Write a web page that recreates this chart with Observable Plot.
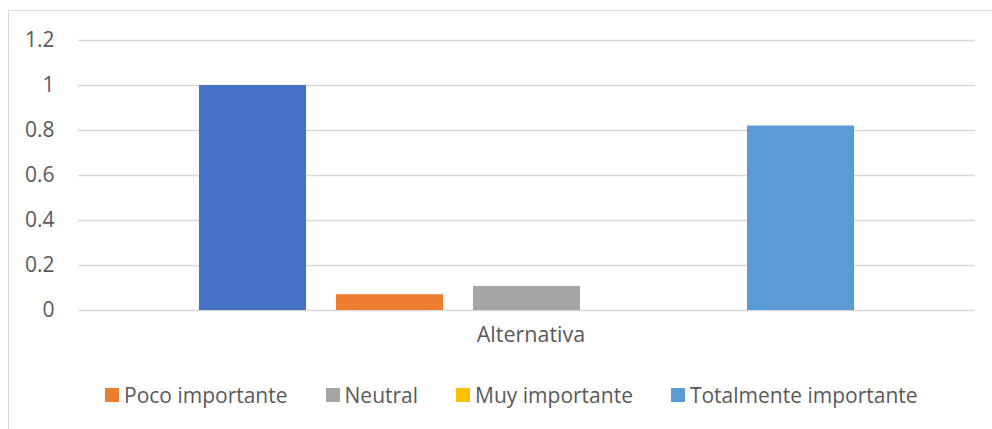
<!DOCTYPE html>
<html>
<head>
<meta charset="utf-8">
<script src="https://cdn.jsdelivr.net/npm/d3@7"></script>
<script src="https://cdn.jsdelivr.net/npm/@observablehq/plot@0.6"></script>
<style>
  html, body { margin: 0; padding: 0; background: #fff; width: 992px; height: 429px; overflow: hidden; }
  #frame { position: absolute; left: 8px; top: 10px; width: 1100px; height: 500px; border: 1.5px solid #d9d9d9; box-sizing: border-box; }
  #chart { position: absolute; left: 0; top: 0; }
  #legend { position: absolute; left: 105px; top: 382px; height: 26px; display: flex; align-items: center; font-family: "Open Sans", sans-serif; font-size: 21px; line-height: 26px; color: #595959; white-space: nowrap; }
  .item { display: flex; align-items: center; margin-right: 38px; }
  .sw { width: 14px; height: 14px; margin-right: 5px; }
</style>
</head>
<body>
<div id="frame"></div>
<div id="chart"></div>
<div id="legend"></div>
<script>
const category = "Alternativa";
const series = ["Nada importante", "Poco importante", "Neutral", "Muy importante", "Totalmente importante"];
const values = [1, 0.07, 0.107, 0, 0.82];
const colors = ["#4472C4", "#ED7D31", "#A5A5A5", "#FFC000", "#5B9BD5"];
const legendSeries = ["Poco importante", "Neutral", "Muy importante", "Totalmente importante"];
const yTicks = [0, 0.2, 0.4, 0.6, 0.8, 1, 1.2];

const data = series.map((s, i) => ({series: s, value: values[i], category}));

const chart = Plot.plot({
  width: 992,
  height: 365,
  marginLeft: 78,
  marginRight: 17,
  marginTop: 40,
  marginBottom: 55,
  style: {fontFamily: "'Open Sans', sans-serif", fontSize: "21px", color: "#595959", background: "transparent"},
  x: {domain: series, range: [197, 856], paddingInner: 0.216, paddingOuter: 0, axis: null},
  y: {domain: [0, 1.2], label: null},
  color: {domain: series, range: colors},
  marks: [
    Plot.gridY(yTicks, {stroke: "#d9d9d9", strokeOpacity: 1, strokeWidth: 1.5}),
    Plot.axisY(yTicks, {tickFormat: d => String(d), tickSize: 0, tickPadding: 24, label: null, fill: "#595959"}),
    Plot.barY(data, {x: "series", y: "value", fill: "series"}),
    Plot.text([category], {frameAnchor: "bottom", dy: 31, dx: 4, fontSize: 21.5, text: d => d, fill: "#595959"})
  ]
});
document.getElementById("chart").appendChild(chart);

const legend = document.getElementById("legend");
legendSeries.forEach(s => {
  const item = document.createElement("div");
  item.className = "item";
  const sw = document.createElement("div");
  sw.className = "sw";
  sw.style.background = colors[series.indexOf(s)];
  const label = document.createElement("span");
  label.textContent = s;
  item.appendChild(sw);
  item.appendChild(label);
  legend.appendChild(item);
});
</script>
</body>
</html>
